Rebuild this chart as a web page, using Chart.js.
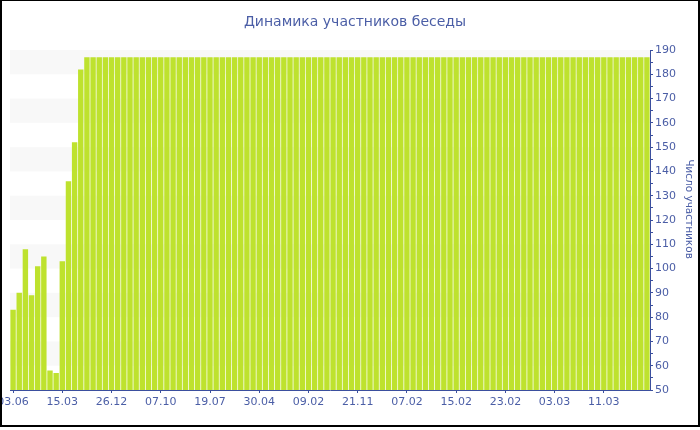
<!DOCTYPE html>
<html>
<head>
<meta charset="utf-8">
<script src="https://cdn.jsdelivr.net/npm/chart.js@4"></script>
<style>
  html, body { margin: 0; padding: 0; background: #fff; }
  #wrap { position: relative; width: 700px; height: 430px; }
  #frame {
    position: absolute; left: 0; top: 0; width: 700px; height: 427px;
    box-sizing: border-box; pointer-events: none;
    border-top: 1px solid #000; border-left: 2px solid #000;
    border-right: 2px solid #000; border-bottom: 2px solid #000;
  }
</style>
</head>
<body>
<div id="wrap">
  <canvas id="chart" width="700" height="430"></canvas>
  <div id="frame"></div>
</div>
<script>
const chartTitle = "Динамика участников беседы";
const yTitle = "Число участников";

// one label every 8 bars, as on the axis
const tickLabels = ["03.06", "15.03", "26.12", "07.10", "19.07", "30.04", "09.02",
  "21.11", "07.02", "15.02", "23.02", "03.03", "11.03"];

const members = [
  83, 90, 108, 89, 101, 105, 58, 57, 103, 136, 152, 182, 187,
  187, 187, 187, 187, 187, 187, 187, 187, 187, 187, 187, 187,
  187, 187, 187, 187, 187, 187, 187, 187, 187, 187, 187, 187,
  187, 187, 187, 187, 187, 187, 187, 187, 187, 187, 187, 187,
  187, 187, 187, 187, 187, 187, 187, 187, 187, 187, 187, 187,
  187, 187, 187, 187, 187, 187, 187, 187, 187, 187, 187, 187,
  187, 187, 187, 187, 187, 187, 187, 187, 187, 187, 187, 187,
  187, 187, 187, 187, 187, 187, 187, 187, 187, 187, 187, 187,
  187, 187, 187, 187, 187, 187, 187
];

// shaded horizontal bands behind the bars
const bands = [[60, 70], [80, 90], [100, 110], [120, 130], [140, 150], [160, 170], [180, 190]];

const yMin = 50;
const yMax = 190;

const labels = members.map((v, i) => (i % 8 === 0 ? tickLabels[i / 8] : ""));

const axisColor = "#3b4f9e";
const textColor = "#4b5ea6";

const bandPlugin = {
  id: "bands",
  beforeDatasetsDraw(chart) {
    const { ctx, chartArea, scales } = chart;
    ctx.save();
    ctx.fillStyle = "#f8f8f8";
    bands.forEach(([lo, hi]) => {
      const top = scales.y.getPixelForValue(hi);
      const bottom = scales.y.getPixelForValue(lo);
      ctx.fillRect(chartArea.left, top, chartArea.right - chartArea.left, bottom - top);
    });
    ctx.restore();
  },
};

const yTitlePlugin = {
  id: "yTitle",
  afterDraw(chart) {
    const ctx = chart.ctx;
    ctx.save();
    ctx.translate(689, 209);
    ctx.rotate(Math.PI / 2);
    ctx.font = "10.5px 'DejaVu Sans'";
    ctx.fillStyle = textColor;
    ctx.textAlign = "center";
    ctx.textBaseline = "middle";
    ctx.fillText(yTitle, 0, 0);
    ctx.restore();
  },
};

new Chart(document.getElementById("chart"), {
  type: "bar",
  data: {
    labels: labels,
    datasets: [
      {
        data: members,
        backgroundColor: "#bee22e",
        barPercentage: 0.88,
        categoryPercentage: 1,
      },
    ],
  },
  options: {
    responsive: false,
    animation: false,
    layout: { padding: { left: 10, right: 0, top: 0, bottom: 0 } },
    plugins: {
      legend: { display: false },
      tooltip: { enabled: false },
      title: {
        display: true,
        text: chartTitle,
        color: textColor,
        font: { family: "DejaVu Sans", size: 14, weight: "normal" },
        padding: { top: 14, bottom: 19.2 },
      },
    },
    scales: {
      x: {
        offset: true,
        afterBuildTicks: (axis) => {
          axis.ticks = axis.ticks.filter((t) => t.value % 8 === 0);
        },
        afterFit: (axis) => {
          axis.height = 40;
          axis.paddingLeft = 0;
          axis.paddingRight = 0;
        },
        grid: {
          drawOnChartArea: false,
          offset: false,
          tickLength: 3,
          color: axisColor,
        },
        border: { color: axisColor, width: 1 },
        ticks: {
          autoSkip: false,
          maxRotation: 0,
          padding: 3,
          color: textColor,
          font: { family: "DejaVu Sans", size: 11 },
        },
      },
      y: {
        position: "right",
        min: yMin,
        max: yMax,
        afterFit: (axis) => {
          axis.width = 50;
        },
        grid: {
          drawOnChartArea: false,
          tickLength: 3,
          color: axisColor,
        },
        border: { color: axisColor, width: 1 },
        ticks: {
          stepSize: 5,
          autoSkip: false,
          padding: 2,
          color: textColor,
          font: { family: "DejaVu Sans", size: 11 },
          callback: (v) => (v % 10 === 0 ? v : ""),
        },
      },
    },
  },
  plugins: [bandPlugin, yTitlePlugin],
});
</script>
</body>
</html>
